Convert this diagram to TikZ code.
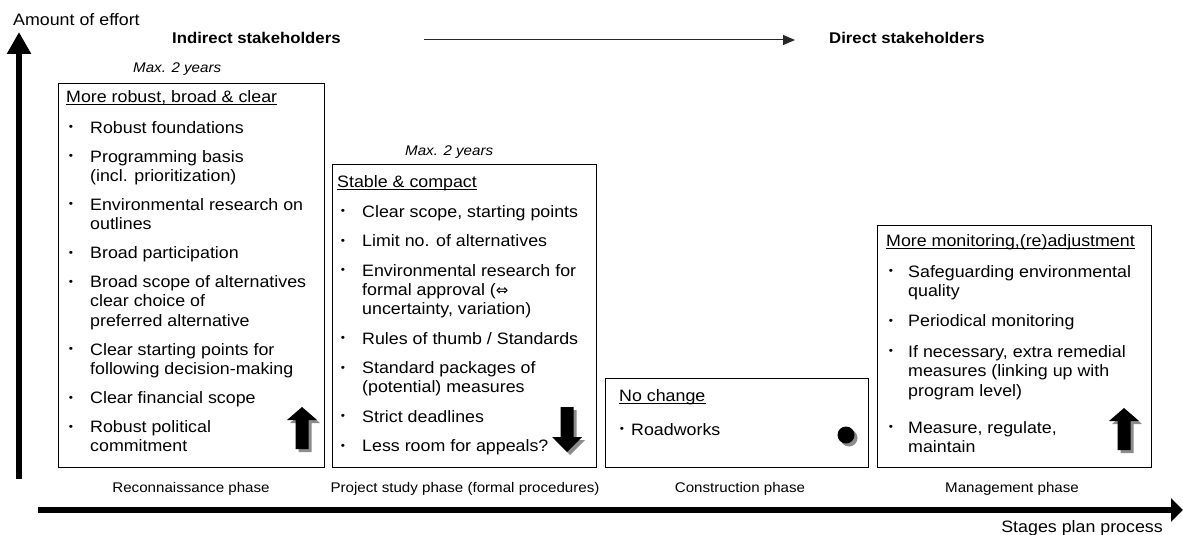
\documentclass[tikz,border=0pt]{standalone}
\usepackage{fontspec}
\setmainfont{Liberation Sans}[FakeStretch=1.08]
\newfontfamily\symfnt{DejaVu Sans}
\usetikzlibrary{arrows.meta,calc}
\tikzset{
  body/.style={anchor=base west, inner sep=0pt, font=\fontsize{16.5}{19.5}\selectfont},
  bul/.style={anchor=base, inner sep=0pt, font=\fontsize{11}{12}\selectfont},
  phase/.style={anchor=base, inner sep=0pt, font=\fontsize{14}{16}\selectfont},
  yrs/.style={anchor=base west, inner sep=0pt, font=\fontsize{14}{16}\selectfont\itshape},
  stake/.style={anchor=base west, inner sep=0pt, font=\fontsize{15.5}{18}\selectfont\bfseries},
  panel/.style={draw=black, line width=1pt},
  shadowfill/.style={fill=black!45},
  ulin/.style={line width=0.9pt},
  axis/.style={line width=6pt},
  arrowup/.pic={
    \begin{scope}[shift={(3,3)}]
      \fill[shadowfill] (0,0) -- (15,13) -- (6.5,13) -- (6.5,42) -- (-6.5,42) -- (-6.5,13) -- (-15,13) -- cycle;
    \end{scope}
    \fill[black] (0,0) -- (15,13) -- (6.5,13) -- (6.5,42) -- (-6.5,42) -- (-6.5,13) -- (-15,13) -- cycle;
  },
  arrowdown/.pic={
    \begin{scope}[shift={(3,3)}]
      \fill[shadowfill] (0,0) -- (15,-15) -- (6.5,-15) -- (6.5,-45) -- (-6.5,-45) -- (-6.5,-15) -- (-15,-15) -- cycle;
    \end{scope}
    \fill[black] (0,0) -- (15,-15) -- (6.5,-15) -- (6.5,-45) -- (-6.5,-45) -- (-6.5,-15) -- (-15,-15) -- cycle;
  },
}
\begin{document}
\begin{tikzpicture}[x=1pt,y=-1pt]
\useasboundingbox (0,0) rectangle (1183,535);

% axes
\coordinate (yb) at (19,479);
\coordinate (yt) at (19,32);
\draw[axis,-{Triangle[length=22pt,width=23pt]}] (yb) -- (yt);
\coordinate (xl) at (38,510);
\coordinate (xr) at (1183,510);
\draw[axis,-{Triangle[length=12pt,width=23pt]}] (xl) -- (xr);
\node[body] (ylab) at (13,26) {Amount of effort};
\node[body,anchor=base east] (xlab) at (1163,532) {Stages plan process};

% stakeholders
\node[stake] (ind) at (172,44) {Indirect stakeholders};
\node[stake] (dir) at (829,44) {Direct stakeholders};
\coordinate (sa) at (424,40);
\coordinate (sb) at (795,40);
\draw[black!85,line width=1pt,-{Triangle[length=12pt,width=10pt]}] (sa) -- (sb);

% years
\node[yrs] (yr1) at (133,72) {Max. 2 years};
\node[yrs] (yr2) at (405,155) {Max. 2 years};

% boxes
\draw[panel] (58,83) rectangle (324,467);
\draw[panel] (332,164) rectangle (596,467);
\draw[panel] (605,378) rectangle (868,467);
\draw[panel] (877,225) rectangle (1151,467);

% box 1
\node[body] (h1) at (66,102) {More robust, broad \& clear};
\draw[ulin] ($(h1.base west)+(0,2.5)$) -- ($(h1.base east)+(0,2.5)$);
\foreach \y [count=\i] in {133,162,210.3,258.6,287.6,355.2,403.5,432.5}
  \node[bul] (ba\i) at (71,\y-2.5) {•};
\node[body] (a1) at (90,133) {Robust foundations};
\node[body] (a2) at (90,162) {Programming basis};
\node[body] (a3) at (90,181.3) {(incl. prioritization)};
\node[body] (a4) at (90,210.3) {Environmental research on};
\node[body] (a5) at (90,229.6) {outlines};
\node[body] (a6) at (90,258.6) {Broad participation};
\node[body] (a7) at (90,287.6) {Broad scope of alternatives};
\node[body] (a8) at (90,306.9) {clear choice of};
\node[body] (a9) at (90,326.2) {preferred alternative};
\node[body] (a10) at (90,355.2) {Clear starting points for};
\node[body] (a11) at (90,374.5) {following decision-making};
\node[body] (a12) at (90,403.5) {Clear financial scope};
\node[body] (a13) at (90,432.5) {Robust political};
\node[body] (a14) at (90,451.8) {commitment};
\pic at (302,407) {arrowup};

% box 2
\node[body] (h2) at (337,187) {Stable \& compact};
\draw[ulin] ($(h2.base west)+(0,2.5)$) -- ($(h2.base east)+(0,2.5)$);
\foreach \y [count=\i] in {217,246.5,276,344.1,373.6,422.4,451.9}
  \node[bul] (bb\i) at (343,\y-2.5) {•};
\node[body] (c1) at (362,217) {Clear scope, starting points};
\node[body] (c2) at (362,246.5) {Limit no. of alternatives};
\node[body] (c3) at (362,276) {Environmental research for};
\node[body] (c4) at (362,295.3) {formal approval ({\symfnt\fontsize{15}{18}\selectfont ⇔}};
\node[body] (c5) at (362,314.6) {uncertainty, variation)};
\node[body] (c6) at (362,344.1) {Rules of thumb / Standards};
\node[body] (c7) at (362,373.6) {Standard packages of};
\node[body] (c8) at (362,392.9) {(potential) measures};
\node[body] (c9) at (362,422.4) {Strict deadlines};
\node[body] (c10) at (362,451.9) {Less room for appeals?};
\pic at (567,452) {arrowdown};

% box 3
\node[body] (h3) at (619,401) {No change};
\draw[ulin] ($(h3.base west)+(0,2.5)$) -- ($(h3.base east)+(0,2.5)$);
\node[bul] (bc1) at (622,432.5) {•};
\node[body] (d1) at (631,435) {Roadworks};
\fill[shadowfill] (849,438) circle (8.5);
\fill[black] (846,435) circle (8.5);

% box 4
\node[body] (h4) at (886,246) {More monitoring,(re)adjustment};
\draw[ulin] ($(h4.base west)+(0,2.5)$) -- ($(h4.base east)+(0,2.5)$);
\foreach \y [count=\i] in {277,326.5,357,433}
  \node[bul] (bd\i) at (891,\y-2.5) {•};
\node[body] (e1) at (908,277) {Safeguarding environmental};
\node[body] (e2) at (908,296.5) {quality};
\node[body] (e3) at (908,326.5) {Periodical monitoring};
\node[body] (e4) at (908,357) {If necessary, extra remedial};
\node[body] (e5) at (908,376.5) {measures (linking up with};
\node[body] (e6) at (908,396.5) {program level)};
\node[body] (e7) at (908,433) {Measure, regulate,};
\node[body] (e8) at (908,452.5) {maintain};
\pic at (1124,408) {arrowup};

% phase labels
\node[phase] (p1) at (191,492) {Reconnaissance phase};
\node[phase] (p2) at (465,492) {Project study phase (formal procedures)};
\node[phase] (p3) at (740,492) {Construction phase};
\node[phase] (p4) at (1012,492) {Management phase};
\end{tikzpicture}
\end{document}
